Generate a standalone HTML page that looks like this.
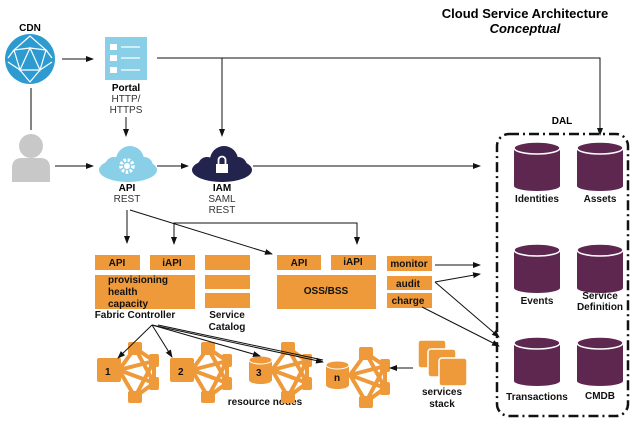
<!DOCTYPE html>
<html><head><meta charset="utf-8"><style>
body{margin:0;background:#fff}
svg{display:block;font-family:"Liberation Sans",Arial,sans-serif}
.b{font-weight:bold}
</style></head><body>
<svg width="640" height="423" viewBox="0 0 640 423" xmlns="http://www.w3.org/2000/svg">
<defs>
<marker id="a" markerWidth="8" markerHeight="8" refX="7" refY="4" orient="auto" markerUnits="userSpaceOnUse"><path d="M0,1 L8,4 L0,7 z" fill="#111"/></marker>
<g id="cyl"><rect x="-23" y="6" width="46" height="38" fill="#5e2750"/><ellipse cx="0" cy="44" rx="23" ry="5" fill="#5e2750"/><ellipse cx="0" cy="6" rx="23" ry="6" fill="#5e2750" stroke="#fff" stroke-width="1.5"/></g>
<g id="net">
<g stroke="#ee9a3a" stroke-width="4" fill="none" stroke-linecap="round">
<path d="M22,12 L38,-10 M22,12 L57,3 M22,12 L57,25 M22,12 L38,39 M38,-10 L57,3 M38,-10 L57,25 M38,39 L57,3 M38,39 L57,25 M57,3 L57,25"/>
</g>
<g fill="#ee9a3a"><rect x="31" y="-16" width="14" height="13" rx="2"/><rect x="52" y="-4" width="10" height="13" rx="2"/><rect x="52" y="19" width="10" height="13" rx="2"/><rect x="31" y="33" width="14" height="12" rx="2"/></g>
</g>
</defs>
<text x="525" y="18" text-anchor="middle" class="b" font-size="13">Cloud Service Architecture</text>
<text x="525" y="33" text-anchor="middle" class="b" font-style="italic" font-size="13">Conceptual</text>
<!-- CDN -->
<text x="30" y="31" text-anchor="middle" class="b" font-size="10">CDN</text>
<circle cx="30" cy="59" r="25" fill="#2e9bd0"/>
<g stroke="#fff" stroke-width="1.2" fill="none"><path d="M30,36 L14,50 L30,48 L46,50 Z M14,50 L20,70 L30,48 L40,70 L46,50 M20,70 L40,70 L30,82 Z M8,58 L14,50 M52,58 L46,50 M20,70 L8,62 M40,70 L52,62"/></g>
<line x1="31" y1="88" x2="31" y2="130" stroke="#333" stroke-width="1.2"/>
<line x1="62" y1="59" x2="93" y2="59" stroke="#111" marker-end="url(#a)"/>
<!-- Portal -->
<rect x="105" y="37" width="42" height="43" fill="#89cfe8"/>
<g fill="#fff"><rect x="110" y="44" width="7" height="6"/><rect x="110" y="55" width="7" height="6"/><rect x="110" y="67" width="7" height="6"/></g>
<g stroke="#fff" stroke-width="1.3"><line x1="121" y1="47" x2="140" y2="47"/><line x1="121" y1="58" x2="140" y2="58"/><line x1="121" y1="70" x2="140" y2="70"/></g>
<text x="126" y="91" text-anchor="middle" class="b" font-size="10">Portal</text>
<text x="126" y="102" text-anchor="middle" font-size="10" fill="#333">HTTP/</text>
<text x="126" y="113" text-anchor="middle" font-size="10" fill="#333">HTTPS</text>
<line x1="126" y1="117" x2="126" y2="136" stroke="#111" marker-end="url(#a)"/>
<polyline points="157,58 600,58 600,135" fill="none" stroke="#111" marker-end="url(#a)"/>
<line x1="222" y1="58" x2="222" y2="136" stroke="#111" marker-end="url(#a)"/>
<!-- person -->
<circle cx="31" cy="146" r="12" fill="#c8c8c8"/>
<path d="M12,182 L12,168 Q12,158 22,158 L40,158 Q50,158 50,168 L50,182 Z" fill="#c8c8c8"/>
<line x1="55" y1="166" x2="93" y2="166" stroke="#111" marker-end="url(#a)"/>
<!-- API cloud -->
<g fill="#89cfe8"><ellipse cx="128" cy="170" rx="29" ry="12"/><circle cx="130" cy="160" r="14"/><circle cx="114" cy="166" r="9"/><circle cx="144" cy="166" r="9"/></g>
<circle cx="127" cy="166" r="6" fill="none" stroke="#fff" stroke-width="3.5" stroke-dasharray="2.5 1.6"/>
<circle cx="127" cy="166" r="3" fill="#fff"/>
<text x="127" y="191" text-anchor="middle" class="b" font-size="10">API</text>
<text x="127" y="202" text-anchor="middle" font-size="10" fill="#333">REST</text>
<line x1="157" y1="166" x2="188" y2="166" stroke="#111" marker-end="url(#a)"/>
<!-- IAM cloud -->
<g fill="#22244e"><ellipse cx="222" cy="170" rx="30" ry="12"/><circle cx="224" cy="160" r="14"/><circle cx="207" cy="166" r="9"/><circle cx="238" cy="166" r="9"/></g>
<rect x="216" y="164" width="12" height="9" fill="#fff"/>
<path d="M218.5,164 V160 a3.5,3.5 0 0 1 7,0 V164" fill="none" stroke="#fff" stroke-width="1.8"/>
<text x="222" y="191" text-anchor="middle" class="b" font-size="10">IAM</text>
<text x="222" y="202" text-anchor="middle" font-size="10" fill="#333">SAML</text>
<text x="222" y="213" text-anchor="middle" font-size="10" fill="#333">REST</text>
<line x1="253" y1="166" x2="480" y2="166" stroke="#111" marker-end="url(#a)"/>
<!-- API connectors -->
<line x1="127" y1="210" x2="127" y2="243" stroke="#111" marker-end="url(#a)"/>
<line x1="130" y1="210" x2="272" y2="254" stroke="#111" marker-end="url(#a)"/>
<polyline points="174,243 174,223 357,223 357,243" fill="none" stroke="#111"/>
<line x1="174" y1="236" x2="174" y2="244" stroke="#111" marker-end="url(#a)"/>
<line x1="357" y1="236" x2="357" y2="244" stroke="#111" marker-end="url(#a)"/>
<!-- Fabric -->
<g fill="#ee9a3a">
<rect x="95" y="255" width="45" height="15"/><rect x="150" y="255" width="45" height="15"/>
<rect x="95" y="275" width="100" height="34"/>
<rect x="205" y="255" width="45" height="15"/><rect x="205" y="275" width="45" height="14"/><rect x="205" y="293" width="45" height="15"/>
<rect x="277" y="255" width="44" height="15"/><rect x="331" y="255" width="45" height="15"/>
<rect x="277" y="275" width="99" height="34"/>
<rect x="387" y="256" width="45" height="15"/><rect x="387" y="276" width="45" height="14"/><rect x="387" y="293" width="45" height="15"/>
</g>
<g class="b" font-size="10" fill="#111">
<text x="117" y="266" text-anchor="middle">API</text><text x="172" y="266" text-anchor="middle">iAPI</text>
<text x="108" y="283">provisioning</text><text x="108" y="295">health</text><text x="108" y="307">capacity</text>
<text x="299" y="266" text-anchor="middle">API</text><text x="353" y="265" text-anchor="middle">iAPI</text>
<text x="326" y="294" text-anchor="middle">OSS/BSS</text>
<text x="409" y="267" text-anchor="middle">monitor</text><text x="408" y="287" text-anchor="middle">audit</text><text x="408" y="304" text-anchor="middle">charge</text>
<text x="135" y="318" text-anchor="middle">Fabric Controller</text>
<text x="227" y="318" text-anchor="middle">Service</text><text x="227" y="330" text-anchor="middle">Catalog</text>
<text x="265" y="405" text-anchor="middle">resource nodes</text>
<text x="442" y="395" text-anchor="middle">services</text><text x="442" y="407" text-anchor="middle">stack</text>
</g>
<line x1="435" y1="265" x2="480" y2="265" stroke="#111" marker-end="url(#a)"/>
<line x1="435" y1="282" x2="480" y2="274" stroke="#111" marker-end="url(#a)"/>
<line x1="435" y1="282" x2="499" y2="337" stroke="#111" marker-end="url(#a)"/>
<line x1="422" y1="307" x2="499" y2="346" stroke="#111" marker-end="url(#a)"/>
<!-- resource nodes -->
<use href="#net" x="97" y="358"/><rect x="97" y="358" width="24" height="24" rx="2" fill="#ee9a3a"/>
<use href="#net" x="170" y="358"/><rect x="170" y="358" width="24" height="24" rx="2" fill="#ee9a3a"/>
<use href="#net" x="250" y="358"/>
<g fill="#ee9a3a"><rect x="249" y="360" width="23" height="20"/><ellipse cx="260.5" cy="380" rx="11.5" ry="4"/><ellipse cx="260.5" cy="360" rx="11.5" ry="4" stroke="#fff"/></g>
<use href="#net" x="328" y="363"/>
<g fill="#ee9a3a"><rect x="326" y="365" width="23" height="20"/><ellipse cx="337.5" cy="385" rx="11.5" ry="4"/><ellipse cx="337.5" cy="365" rx="11.5" ry="4" stroke="#fff"/></g>
<g fill="#111" font-size="10" class="b"><text x="105" y="375">1</text><text x="178" y="375">2</text><text x="256" y="376">3</text><text x="334" y="381">n</text></g>
<g stroke="#111" fill="none">
<line x1="152" y1="325" x2="118" y2="358" marker-end="url(#a)"/>
<line x1="152" y1="325" x2="172" y2="357" marker-end="url(#a)"/>
<line x1="152" y1="325" x2="260" y2="356" marker-end="url(#a)"/>
<line x1="152" y1="325" x2="323" y2="362" marker-end="url(#a)"/>
<line x1="158" y1="325" x2="323" y2="360"/>
</g>
<!-- services stack -->
<g fill="#ee9a3a" stroke="#fff" stroke-width="1.5"><rect x="418" y="340" width="28" height="28" rx="3"/><rect x="428" y="349" width="28" height="28" rx="3"/><rect x="439" y="358" width="28" height="28" rx="3"/></g>
<line x1="413" y1="368" x2="390" y2="368" stroke="#111" marker-end="url(#a)"/>
<!-- DAL -->
<text x="562" y="124" text-anchor="middle" class="b" font-size="10">DAL</text>
<rect x="497" y="134" width="131" height="282" rx="12" fill="none" stroke="#111" stroke-width="2.5" stroke-dasharray="10 4 2 4"/>
<use href="#cyl" x="537" y="142"/><use href="#cyl" x="600" y="142"/>
<use href="#cyl" x="537" y="244"/><use href="#cyl" x="600" y="244"/>
<use href="#cyl" x="537" y="337"/><use href="#cyl" x="600" y="337"/>
<g class="b" font-size="10" text-anchor="middle" fill="#111">
<text x="537" y="202">Identities</text><text x="600" y="202">Assets</text>
<text x="537" y="304">Events</text><text x="600" y="299">Service</text><text x="600" y="310">Definition</text>
<text x="537" y="400">Transactions</text><text x="600" y="399">CMDB</text>
</g>
</svg>
</body></html>
